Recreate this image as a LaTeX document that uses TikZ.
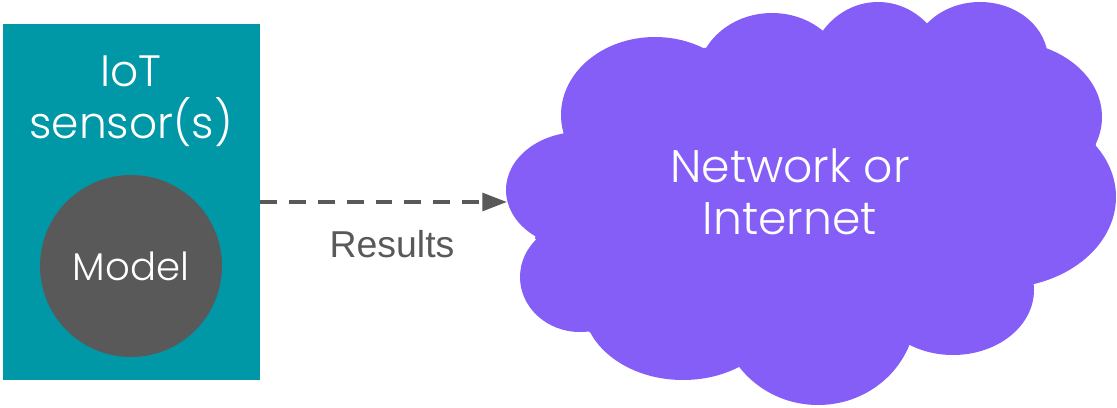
\documentclass[tikz,border=0pt]{standalone}
\usepackage{fontspec}
\setmainfont{Poppins Light}
\newfontfamily\arialfont{Liberation Sans}
\usetikzlibrary{arrows.meta}
\definecolor{sensorteal}{HTML}{0097A7}
\definecolor{modelgrey}{HTML}{595959}
\definecolor{netpurple}{HTML}{845EF7}
\tikzset{
  sensorbox/.style={rectangle, fill=sensorteal, minimum width=5.14cm, minimum height=7.12cm, inner sep=0pt},
  modeldisc/.style={circle, fill=modelgrey, minimum size=3.64cm, inner sep=0pt, text=white, font=\fontsize{22}{26}\selectfont},
  whitetext/.style={text=white, align=center, font=\fontsize{26}{29.5}\selectfont},
  cloudfill/.style={fill=netpurple},
  resultsarrow/.style={draw=modelgrey, line width=2.3pt, dash pattern=on 9.6pt off 6.8pt, -{Triangle[length=14pt, width=10pt]}},
}
\begin{document}
\begin{tikzpicture}[x=0.02cm, y=-0.02cm]
    \useasboundingbox (0,0) rectangle (1117,407);
    % sensor with its model
    \node[sensorbox] (sensor) at (131.5,202) {};
    \node[whitetext, font=\fontsize{25}{29.5}\selectfont] (sensorlabel) at (131,101) {IoT\\sensor(s)};
    \node[modeldisc] (model) at (131,266) {Model};
    % cloud: cusps plus puffs
    \fill[cloudfill] (561,135) -- (535,238) -- (589,332) -- (738,367) -- (909,343) -- (1033,282)
        -- (1096,145) -- (1047,52) -- (927,23) -- (823,31) -- (704,48) -- cycle;
    \foreach \cx/\cy/\rx/\ry in {655/115/94/78, 772/80/75/67, 878/77/70/75, 980/60/68/58,
        1005/117/97/76, 1000/197/116/91, 953/290/81/65, 818/311/98/94, 683/304/100/76,
        580/277/60/55, 580/190/74/58}
        \fill[cloudfill] (\cx,\cy) ellipse [x radius=\rx, y radius=\ry];
    \node[whitetext] (net) at (790,192) {Network or\\Internet};
    \coordinate (netin) at (507,202);
    % results
    \draw[resultsarrow] (sensor.east) -- (netin);
    \node[text=modelgrey, font=\arialfont\fontsize{21.3}{24}\selectfont] (results) at (392,244) {Results};
\end{tikzpicture}
\end{document}
